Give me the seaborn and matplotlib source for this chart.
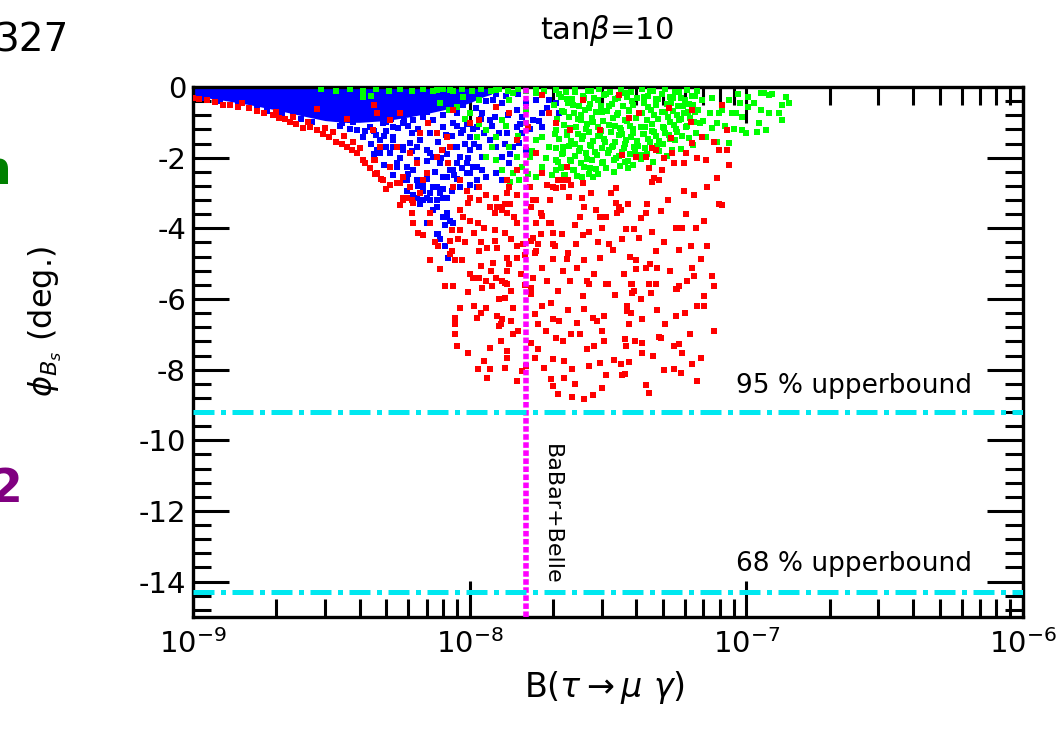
import matplotlib
matplotlib.use("Agg")
import matplotlib.pyplot as plt
from matplotlib.ticker import LogLocator, MultipleLocator, NullFormatter
import pandas as pd
import seaborn as sns

# B(tau -> mu gamma) in units of 1e-9, phi_Bs in degrees
red_pts = [
    (1.0, -0.3), (1.05, -0.33), (1.12, -0.37), (1.2, -0.42), (1.28, -0.5), (1.36, -0.52),
    (1.46, -0.56), (1.6, -0.6), (1.7, -0.68), (1.8, -0.73), (1.94, -0.8), (2.05, -0.88),
    (2.15, -0.92), (2.24, -1.0), (2.36, -1.05), (2.5, -1.17), (2.65, -1.14), (2.8, -1.22),
    (2.95, -1.32), (3.1, -1.42), (3.3, -1.56), (3.45, -1.62), (3.6, -1.7), (3.75, -1.78),
    (3.9, -1.88), (4.1, -2.07), (4.2, -2.16), (4.35, -2.3), (4.55, -2.45), (4.8, -2.6),
    (5.0, -2.9), (1.5, -0.46), (2.0, -0.7), (2.3, -0.86), (2.6, -0.98), (3.0, -1.15),
    (3.2, -1.27), (3.5, -1.38), (3.8, -1.56), (4.0, -1.72), (4.5, -2.08), (2.8, -0.62),
    (3.6, -0.92), (4.5, -0.52),
    (4.62, -0.74), (4.47, -1.22), (4.73, -1.7), (4.54, -2.07), (4.85, -2.64), (5.45, -2.73),
    (5.73, -2.56), (6.07, -2.84), (5.73, -3.13), (6.18, -3.21), (6.6, -3.01), (6.76, -2.64),
    (6.99, -2.44), (6.44, -2.16), (6.6, -1.31), (7.05, -1.02), (7.6, -1.31), (7.92, -1.79),
    (7.6, -1.99), (8.47, -1.7), (8.33, -2.16), (9.2, -2.64), (8.67, -2.84), (9.75, -2.93),
    (10.0, -3.13), (10.85, -2.84), (11.5, -3.07), (12.5, -3.13), (13.1, -3.41), (11.8, -3.41),
    (13.9, -2.84), (13.6, -2.64), (14.8, -2.36), (17.4, -1.88), (18.3, -2.44), (20.0, -2.84),
    (21.5, -2.64), (22.4, -2.27), (20.6, -1.02), (19.4, -0.74), (18.3, -0.23), (5.59, -0.74),
    (5.14, -0.94), (8.67, -0.65), (10.0, -1.02), (8.26, -1.42), (6.07, -1.88), (5.45, -1.7),
    (5.14, -2.27), (4.62, -2.44), (12.5, -0.57), (14.8, -1.51), (13.9, -0.74), (16.2, -1.14),
    (10.85, -0.94),
    (5.14, -2.78), (5.59, -2.73), (5.73, -3.21), (5.92, -3.15), (5.59, -3.35), (6.23, -3.27),
    (6.18, -3.58), (6.23, -3.86), (6.49, -4.12), (6.76, -4.2), (7.17, -3.58), (7.17, -3.84),
    (7.48, -4.4), (7.67, -4.49), (8.47, -4.35), (8.6, -4.63), (7.17, -4.91), (7.79, -5.14),
    (8.47, -4.72), (8.83, -4.91), (9.36, -4.91), (8.6, -4.06), (9.2, -4.06), (9.05, -4.29),
    (9.44, -3.69), (9.2, -3.49), (9.83, -3.27), (10.85, -3.21), (10.0, -3.78), (10.7, -3.86),
    (11.3, -3.98), (12.3, -4.06), (10.4, -4.12), (11.0, -4.4), (11.6, -4.55), (12.3, -4.35),
    (12.6, -4.55), (10.85, -4.63), (12.1, -4.97), (11.0, -5.06), (10.25, -5.4), (10.85, -5.4),
    (10.0, -5.28), (11.5, -5.48), (12.5, -5.4), (13.1, -5.48), (13.7, -5.57), (13.6, -5.2),
    (14.8, -4.83), (13.6, -4.83), (13.9, -5.0), (12.6, -3.41), (13.1, -3.49), (13.7, -3.58),
    (12.3, -3.58), (13.4, -3.3), (14.8, -3.07), (14.5, -3.69), (14.8, -3.84), (13.4, -4.12),
    (14.1, -4.29), (14.8, -4.49), (16.7, -3.41), (17.4, -3.21), (18.1, -3.58), (17.4, -3.84),
    (16.9, -4.26), (17.6, -4.43), (17.4, -4.63), (19.7, -3.84), (20.0, -4.12), (20.3, -4.49),
    (20.0, -4.86), (18.3, -5.11), (19.1, -2.78), (20.6, -2.87), (15.6, -4.45), (15.9, -4.75),
    (13.6, -3.01), (16.5, -2.84), (16.9, -3.21), (18.3, -3.64), (19.4, -3.84), (18.1, -4.15),
    (16.7, -4.35), (17.2, -4.69), (16.9, -5.4), (20.0, -4.43), (21.5, -4.15), (21.7, -2.84),
    (20.8, -2.64), (22.6, -2.64), (23.3, -2.78), (25.6, -2.73), (25.4, -3.15), (26.0, -3.41),
    (25.0, -3.69), (25.6, -4.2), (24.3, -4.43), (22.6, -4.69), (22.4, -4.86), (24.5, -5.11),
    (23.0, -5.48), (26.6, -5.48), (28.6, -3.49), (29.5, -3.69), (31.2, -3.69), (30.1, -3.98),
    (31.9, -4.43), (29.5, -4.83), (28.2, -5.28), (31.2, -5.57), (33.8, -3.27), (34.8, -3.41),
    (34.0, -3.58), (36.8, -4.01), (39.3, -4.01), (41.0, -4.26), (43.8, -3.3), (43.4, -3.58),
    (47.1, -4.63), (40.0, -4.91), (40.0, -5.14), (43.4, -5.11), (47.5, -5.11), (47.1, -5.57),
    (38.7, -5.57), (55.7, -3.98), (58.5, -3.98), (63.0, -4.49), (68.5, -4.86), (63.5, -5.11),
    (64.5, -5.34), (74.9, -5.34), (56.1, -5.71), (59.5, -2.93), (64.5, -3.07), (71.8, -2.84),
    (78.3, -2.59), (79.6, -3.3), (81.5, -3.35), (46.4, -2.59), (48.3, -2.64), (54.8, -2.16),
    (59.5, -2.16), (66.1, -2.02), (71.2, -2.07), (86.8, -2.22), (85.4, -1.79), (79.6, -1.79),
    (85.4, -1.22), (44.5, -2.3), (45.6, -2.7), (49.5, -2.36), (50.4, -2.02), (53.8, -1.88),
    (33.8, -2.87), (35.3, -3.49), (40.0, -1.99), (45.6, -1.73), (53.4, -1.45), (63.0, -0.99),
    (68.9, -1.42), (76.2, -1.56), (34.8, -0.23), (81.5, -0.51), (63.5, -0.65), (41.0, -0.74),
    (52.5, -0.6), (29.5, -1.22), (37.8, -0.88), (63.5, -1.59), (47.1, -1.79), (35.6, -1.93),
    (43.4, -1.99), (60.5, -1.88), (25.6, -0.37), (23.0, -1.22),
    (76.2, -5.63), (70.1, -5.91), (66.1, -6.19), (70.1, -6.19), (76.2, -6.9), (55.7, -6.48),
    (57.0, -5.63), (55.7, -5.71), (48.3, -7.07), (54.8, -7.33), (57.0, -7.27), (58.5, -7.53),
    (63.5, -7.84), (68.5, -7.67), (66.1, -8.32), (54.8, -7.98), (58.0, -8.1), (43.4, -8.44),
    (44.5, -8.66), (42.0, -7.53), (42.0, -7.24), (42.0, -6.56), (37.8, -6.7), (38.4, -6.39),
    (37.1, -6.19), (38.7, -5.82), (38.4, -5.57), (44.5, -5.57), (45.2, -5.82), (30.6, -6.48),
    (30.1, -6.9), (30.6, -7.19), (36.3, -7.13), (36.8, -7.33), (33.3, -7.73), (35.3, -7.84),
    (37.8, -7.78), (31.2, -8.15), (35.6, -8.15), (30.1, -8.52),
    (8.13, -5.63), (8.67, -5.63), (11.1, -5.68), (12.0, -5.63), (13.4, -5.54), (14.1, -5.77),
    (12.8, -5.99), (9.2, -6.25), (10.4, -6.19), (11.0, -6.39), (11.5, -6.25), (10.6, -6.53),
    (12.6, -6.48), (13.1, -6.56), (13.0, -6.7), (14.3, -6.25), (14.1, -6.62), (8.83, -6.53),
    (8.83, -6.7), (8.83, -6.99), (8.98, -7.33), (9.83, -7.53), (11.8, -7.39), (13.0, -7.19),
    (13.7, -7.47), (13.6, -7.67), (14.3, -6.99), (11.3, -7.76), (11.8, -7.98), (10.7, -7.98),
    (13.4, -7.95), (11.6, -8.24), (14.8, -8.32), (15.4, -8.04), (13.4, -5.97), (12.8, -6.76),
    (16.7, -5.68), (16.7, -5.85), (20.8, -5.77), (18.3, -6.19), (19.7, -6.11), (17.2, -6.42),
    (20.0, -6.56), (21.1, -6.62), (17.6, -6.7), (16.7, -7.24), (20.6, -7.1), (21.7, -7.19),
    (23.3, -6.99), (25.0, -6.99), (25.6, -5.91), (26.0, -6.28), (27.8, -6.53), (28.9, -6.62),
    (24.5, -6.68), (28.2, -7.33), (26.6, -7.41), (20.0, -7.7), (22.0, -7.76), (17.2, -7.67),
    (18.6, -7.95), (19.7, -8.27), (22.0, -8.24), (20.0, -8.47), (20.8, -8.69), (23.5, -8.78),
    (26.0, -8.84), (27.8, -8.72), (29.5, -7.81), (36.3, -8.13), (37.1, -6.34), (49.1, -7.1),
    (39.3, -5.77), (31.5, -5.57), (27.0, -5.57), (17.6, -7.41), (23.5, -7.98), (15.9, -5.6),
    (22.8, -3.1), (24.0, -3.9), (27.5, -3.0), (27.0, -4.1), (29.0, -4.4), (32.5, -3.0),
    (33.0, -4.6), (35.5, -4.3), (37.5, -3.3), (38.0, -4.8), (41.5, -3.7), (45.5, -4.1),
    (45.0, -5.0), (49.0, -3.5), (50.5, -4.4), (52.0, -3.2), (53.0, -5.2), (57.0, -4.6),
    (60.5, -3.6), (61.0, -5.5), (66.0, -4.0), (70.5, -3.8), (72.0, -4.5), (36.0, -5.3),
    (33.5, -5.9), (41.5, -6.0), (47.5, -6.3), (51.0, -6.7), (60.0, -6.4), (62.5, -7.0),
    (46.0, -7.6), (39.5, -7.2), (50.5, -8.0), (27.0, -7.9), (24.0, -8.4), (9.6, -4.4),
    (9.9, -5.8), (11.9, -5.2), (15.3, -5.3), (15.0, -6.9), (16.0, -7.9), (18.8, -6.9),
    (22.7, -6.3), (26.0, -4.9), (19.0, -5.5), (21.8, -5.2), (14.0, -3.3), (19.5, -3.2),
]

blue_pts = [
    (4.73, -1.88), (5.0, -1.7), (4.73, -1.51), (5.28, -1.51), (5.73, -1.79), (6.07, -1.59),
    (6.44, -1.7), (5.45, -2.16), (5.92, -2.27), (6.23, -2.36), (5.92, -2.64), (6.44, -2.64),
    (6.76, -2.93), (7.36, -2.84), (6.99, -3.13), (6.6, -3.3), (7.6, -3.21), (7.36, -3.49),
    (7.99, -3.69), (8.26, -2.56), (8.67, -2.36), (7.79, -2.16), (7.36, -1.99), (6.99, -1.79),
    (8.67, -1.7), (9.2, -1.99), (9.75, -2.16), (10.0, -2.44), (10.6, -2.27), (11.1, -1.99),
    (10.85, -1.7), (10.0, -1.42), (9.44, -1.22), (8.67, -1.02), (7.99, -1.14), (7.36, -0.94),
    (6.76, -0.85), (6.23, -0.94), (5.73, -1.02), (5.28, -1.14), (4.85, -1.02), (11.8, -1.51),
    (12.5, -1.7), (13.1, -1.99), (13.9, -2.16), (12.5, -2.44), (11.5, -2.56), (13.1, -2.64),
    (14.3, -1.7), (13.6, -1.31), (14.8, -1.14), (15.5, -1.31), (15.1, -1.59), (16.0, -1.79),
    (16.9, -0.94), (18.3, -0.74), (20.6, -0.45), (19.4, -0.37), (17.4, -0.37), (16.0, -0.45),
    (14.8, -0.65), (13.1, -0.45), (12.1, -0.37), (11.1, -0.74), (11.8, -0.94), (10.6, -1.14),
    (21.1, -0.74), (18.3, -1.14), (5.45, -2.27), (5.73, -2.64), (5.92, -2.93), (6.44, -3.13),
    (6.76, -3.21), (7.17, -3.01), (7.6, -2.84), (7.99, -2.56), (8.47, -2.36), (8.98, -2.16),
    (9.75, -2.44), (10.6, -2.64), (11.1, -2.36), (7.99, -3.13), (8.26, -3.69), (8.67, -3.84),
    (8.13, -3.92), (7.6, -4.15), (7.05, -3.84), (7.6, -3.41), (6.76, -2.78), (5.14, -1.88),
    (4.62, -1.79), (5.28, -1.42), (5.73, -1.7), (6.44, -2.07), (7.17, -1.88), (7.99, -1.79),
    (8.98, -1.7), (10.0, -1.79), (10.25, -2.27), (3.9, -1.22), (4.1, -1.42), (4.35, -1.14),
    (3.68, -0.94), (3.3, -0.74), (3.47, -1.02), (3.12, -0.57), (2.8, -0.45), (2.95, -0.65),
    (2.58, -0.37), (6.23, -3.07), (7.17, -3.21), (7.79, -3.01), (8.26, -3.13), (8.6, -2.93),
    (9.2, -2.84), (10.0, -2.78), (10.6, -2.84), (8.26, -3.58), (8.47, -3.78), (6.99, -3.86),
    (7.67, -4.15), (8.33, -4.83), (8.13, -4.49), (7.79, -4.29),
    (1.1, -0.32), (1.25, -0.4), (1.45, -0.47), (1.7, -0.6), (1.85, -0.68), (2.1, -0.76),
    (2.3, -0.82), (2.45, -0.92), (2.7, -0.98), (3.4, -1.1), (3.7, -1.18), (4.2, -1.25),
    (4.6, -1.35), (5.0, -1.25), (5.5, -1.15), (6.0, -1.1), (6.5, -1.2), (7.2, -1.3),
    (8.2, -1.35), (9.0, -1.1), (9.8, -1.05), (10.5, -0.6), (11.5, -0.4), (12.5, -0.2),
    (13.5, -0.25), (15.0, -0.2), (9.5, -0.5), (4.2, -0.9), (5.0, -1.0), (5.8, -0.95),
    (4.4, -1.6), (4.9, -1.4), (5.3, -1.7), (5.6, -2.0), (6.2, -1.8), (6.6, -1.5),
    (7.0, -2.1), (7.5, -2.4), (7.9, -2.0), (8.3, -1.9), (8.8, -2.5), (9.4, -2.3),
    (9.9, -2.0), (10.4, -1.6), (11.3, -1.3), (12.0, -1.1), (12.8, -1.3), (13.4, -1.6),
    (14.0, -1.9), (15.2, -1.05), (16.5, -1.2), (17.8, -0.95), (19.0, -0.6), (6.0, -2.45),
    (6.5, -2.8), (7.0, -2.6), (5.3, -2.5), (4.9, -2.2), (4.5, -1.9), (8.0, -2.9),
    (9.0, -2.6), (9.6, -1.6), (10.3, -1.2), (11.0, -0.9), (12.3, -0.85), (13.8, -0.8),
    (15.5, -0.85), (7.0, -0.7), (8.0, -0.8), (9.0, -0.75), (6.0, -0.75), (5.2, -0.9),
    (4.5, -1.25), (3.8, -1.0), (4.0, -0.85), (6.2, -1.3), (7.7, -1.55), (8.6, -1.4),
    (9.3, -1.3),
]

# solid blue band along the top-left edge
blue_core_b = [1.0, 1.3, 1.6, 2.0, 2.5, 3.0, 3.5, 4.0, 5.0, 6.0, 7.0, 8.0, 9.0, 10.0, 11.0, 12.0]
blue_core_phi = [-0.25, -0.38, -0.5, -0.65, -0.82, -0.95, -1.0, -1.0, -0.95, -0.85, -0.75,
                 -0.65, -0.55, -0.45, -0.3, -0.2]

green_pts = [
    (2.9, -0.06), (3.3, -0.1), (3.7, -0.05), (4.1, -0.12), (4.6, -0.06), (5.1, -0.1),
    (5.6, -0.05), (6.2, -0.12), (6.8, -0.06), (7.4, -0.1), (8.0, -0.05), (8.7, -0.12),
    (9.4, -0.06), (10.2, -0.1), (11.0, -0.05), (11.9, -0.12), (12.8, -0.06), (13.8, -0.1),
    (14.9, -0.05), (16.0, -0.12), (17.3, -0.06), (18.6, -0.1), (4.1, -0.28), (4.4, -0.25),
    (7.8, -0.45), (8.4, -0.65), (9.6, -0.9), (10.8, -1.05),
    (8.98, -0.57), (10.0, -0.74), (10.85, -0.37), (9.44, -0.28), (8.47, -0.09), (7.6, -0.09),
    (11.5, -1.22), (10.6, -1.42), (12.5, -1.42), (13.1, -0.94), (13.9, -1.7), (14.8, -1.99),
    (11.5, -1.99), (12.5, -2.07), (13.1, -2.36), (14.3, -2.44), (15.5, -2.27), (16.5, -1.99),
    (17.4, -1.51), (16.0, -1.02), (18.3, -1.42), (19.4, -1.7), (20.6, -2.07), (21.7, -2.27),
    (18.3, -2.27), (17.4, -2.56), (15.1, -2.64), (20.6, -1.22), (21.7, -1.7), (17.4, -0.17),
    (14.3, -0.17), (12.5, -0.09), (20.6, -0.09), (16.0, -0.65), (13.9, -0.37), (12.0, -1.7),
    (13.5, -1.1), (15.0, -1.4), (16.8, -1.8), (18.8, -2.0), (19.8, -2.5), (14.0, -2.7),
    (16.2, -2.45),
    (20.5, -0.08), (22.3, -0.14), (24.1, -0.06), (26.8, -0.12), (29.4, -0.05), (32.2, -0.15),
    (35.1, -0.07), (38.3, -0.13), (41.9, -0.06), (46.1, -0.12), (50.7, -0.05), (55.3, -0.14),
    (60.8, -0.08), (66.5, -0.1),
    (21.3, -0.27), (23.4, -0.33), (25.6, -0.25), (28.1, -0.31), (30.7, -0.24), (33.6, -0.35),
    (36.9, -0.28), (40.2, -0.32), (44.0, -0.26), (48.1, -0.34), (52.9, -0.28), (58.2, -0.31),
    (63.5, -0.26),
    (20.2, -0.52), (22.7, -0.46), (24.9, -0.55), (27.2, -0.49), (29.9, -0.54), (32.8, -0.47),
    (35.9, -0.53), (39.1, -0.5), (42.8, -0.45), (47.0, -0.52), (51.6, -0.48), (56.5, -0.55),
    (62.0, -0.47),
    (21.6, -0.68), (23.9, -0.74), (26.1, -0.66), (28.7, -0.72), (31.4, -0.67), (34.5, -0.75),
    (37.8, -0.69), (41.3, -0.73), (45.2, -0.66), (49.6, -0.71), (54.4, -0.68), (59.6, -0.74),
    (65.3, -0.7),
    (20.7, -0.92), (22.9, -0.86), (25.3, -0.94), (27.7, -0.89), (30.3, -0.95), (33.1, -0.87),
    (36.3, -0.93), (39.8, -0.88), (43.6, -0.94), (47.8, -0.9), (52.3, -0.86), (57.3, -0.93),
    (62.8, -0.89),
    (21.9, -1.08), (24.2, -1.14), (26.6, -1.06), (29.1, -1.12), (31.9, -1.07), (34.9, -1.15),
    (38.1, -1.09), (41.7, -1.13), (45.7, -1.06), (50.1, -1.12), (54.9, -1.08), (60.3, -1.14),
    (20.3, -1.32), (22.5, -1.26), (24.7, -1.34), (27.0, -1.28), (29.6, -1.35), (32.4, -1.27),
    (35.5, -1.33), (38.9, -1.29), (42.4, -1.34), (46.5, -1.27), (51.0, -1.31), (56.0, -1.28),
    (21.1, -1.48), (23.2, -1.54), (25.5, -1.46), (28.0, -1.52), (30.6, -1.47), (33.5, -1.55),
    (36.7, -1.49), (40.1, -1.53), (44.1, -1.46), (48.3, -1.52), (53.0, -1.48),
    (20.6, -1.72), (22.8, -1.66), (25.0, -1.74), (27.4, -1.68), (30.1, -1.73), (32.9, -1.67),
    (36.0, -1.74), (39.4, -1.69), (43.2, -1.72), (47.5, -1.66),
    (21.8, -1.88), (24.0, -1.94), (26.3, -1.86), (28.9, -1.92), (31.6, -1.87), (34.6, -1.95),
    (37.9, -1.89), (41.5, -1.93),
    (20.9, -2.12), (23.0, -2.06), (25.2, -2.14), (27.6, -2.08), (30.4, -2.13), (33.3, -2.07),
    (36.4, -2.12),
    (21.4, -2.28), (23.6, -2.34), (26.0, -2.27), (28.5, -2.33), (31.0, -2.29),
    (22.1, -2.48), (24.4, -2.53), (26.9, -2.47),
    (21.0, -0.2), (22.5, -0.35), (24.0, -0.15), (25.8, -0.3), (27.5, -0.1), (29.0, -0.38),
    (31.0, -0.2), (34.5, -0.32), (36.5, -0.18), (38.5, -0.4), (42.5, -0.28), (45.0, -0.1),
    (47.0, -0.35), (49.5, -0.2), (54.5, -0.3), (57.0, -0.15), (60.0, -0.38), (65.0, -0.25),
    (22.0, -0.7), (23.6, -0.5), (25.2, -0.78), (27.0, -0.6), (30.2, -0.72), (32.0, -0.55),
    (34.0, -0.8), (37.6, -0.66), (41.8, -0.75), (44.0, -0.58), (46.2, -0.8), (51.0, -0.7),
    (53.5, -0.45), (56.0, -0.78), (58.8, -0.55), (61.5, -0.72), (64.0, -0.5), (67.0, -0.65),
    (23.0, -1.15), (24.6, -0.9), (26.3, -1.2), (28.0, -1.0), (29.8, -1.25), (33.5, -1.1),
    (35.2, -1.22), (37.0, -0.95), (39.0, -1.18), (43.2, -1.12), (45.5, -1.25), (47.8, -0.92),
    (50.2, -1.15), (52.8, -0.98), (55.5, -1.2), (58.0, -0.9), (61.0, -1.1), (64.5, -1.0),
    (22.4, -1.35), (24.0, -1.62), (25.6, -1.4), (27.3, -1.65), (29.0, -1.38), (30.8, -1.55),
    (32.8, -1.7), (34.6, -1.35), (36.4, -1.6), (38.4, -1.42), (40.5, -1.68), (42.6, -1.32),
    (44.8, -1.55), (47.2, -1.4), (49.8, -1.62), (52.4, -1.35), (55.0, -1.5), (58.5, -1.38),
    (21.5, -1.9), (23.2, -2.1), (24.8, -1.8), (26.5, -2.05), (28.3, -1.85), (30.0, -2.15),
    (31.8, -1.78), (33.7, -2.0), (35.5, -1.85), (37.5, -2.1), (39.5, -1.8), (41.5, -2.05),
    (43.8, -1.9), (46.0, -2.12), (48.5, -1.82), (51.5, -1.95), (54.0, -1.78),
    (22.0, -2.5), (23.8, -2.35), (25.5, -2.55), (27.2, -2.3), (29.2, -2.45), (31.2, -2.3),
    (33.2, -2.4), (35.0, -2.25), (37.2, -2.3), (20.5, -2.35), (28.0, -2.55), (39.0, -2.22),
    (68.9, -0.37), (73.7, -0.74), (78.3, -1.02), (81.5, -0.65), (86.8, -0.37), (91.7, -0.74),
    (96.7, -0.85), (101.4, -0.57), (106.8, -0.45), (113.0, -0.65), (121.0, -0.74),
    (131.0, -0.74), (135.0, -0.51), (143.0, -0.45), (139.0, -0.28), (113.0, -0.17),
    (121.0, -0.23), (101.0, -0.28), (111.0, -1.02), (118.0, -1.22), (96.7, -1.22),
    (100.0, -1.31), (86.8, -1.59), (78.3, -1.56), (71.2, -1.42), (135.0, -0.94),
    (109.0, -1.28), (124.0, -0.2), (116.0, -0.17), (94.5, -0.45), (79.6, -0.74),
    (74.9, -1.16), (67.8, -1.02), (88.6, -0.74), (62.0, -1.45), (66.0, -1.3), (70.0, -0.95),
    (75.0, -0.3), (84.0, -1.1), (90.0, -1.2), (93.0, -0.2), (58.0, -1.75), (64.0, -1.65),
]

babar_belle_limit = 1.6e-8
bound_95 = -9.2
bound_68 = -14.3

x_ticks = [1e-9, 1e-8, 1e-7, 1e-6]
x_tick_labels = [r"$10^{-9}$", r"$10^{-8}$", r"$10^{-7}$", r"$10^{-6}$"]
y_ticks = [0, -2, -4, -6, -8, -10, -12, -14]
y_tick_labels = ["0", "-2", "-4", "-6", "-8", "-10", "-12", "-14"]


def to_frame(points):
    df = pd.DataFrame(points, columns=["b", "phi"])
    df["b"] = df["b"] * 1e-9
    return df


sns.set_style("ticks")
plt.rcParams["font.family"] = ["DejaVu Sans"]
plt.rcParams["axes.unicode_minus"] = False
plt.rcParams["mathtext.fontset"] = "dejavusans"
for key in ("text.color", "axes.labelcolor", "xtick.color", "ytick.color", "axes.edgecolor"):
    plt.rcParams[key] = "black"

fig = plt.figure(figsize=(10.62, 7.31), dpi=100)
ax = fig.add_axes([0.1817, 0.156, 0.7816, 0.725])
ax.set_xscale("log")

core_b = [b * 1e-9 for b in blue_core_b]
ax.fill_between(core_b, 0, blue_core_phi, color="#0000ff", linewidth=0, zorder=2)

marker_kw = dict(marker="s", linewidth=0, legend=False, ax=ax)
sns.scatterplot(data=to_frame(blue_pts), x="b", y="phi", color="#0000ff", s=22, zorder=3, **marker_kw)
sns.scatterplot(data=to_frame(green_pts), x="b", y="phi", color="#00ff00", s=24, zorder=4, **marker_kw)
sns.scatterplot(data=to_frame(red_pts), x="b", y="phi", color="#ff0000", s=19, zorder=5, **marker_kw)

# experimental bounds
ax.axvline(babar_belle_limit, color="#ff00ff", linewidth=4, linestyle=(0, (1, 0.45)), zorder=6)
for yb in (bound_95, bound_68):
    ax.axhline(yb, color="#00e8f0", linewidth=3.6, linestyle=(0, (4.2, 1.3, 1.0, 1.3)), zorder=6)

ax.text(6.55e-7, -8.47, "95 % upperbound", ha="right", va="center", fontsize=19)
ax.text(6.55e-7, -13.5, "68 % upperbound", ha="right", va="center", fontsize=19)
ax.text(1.98e-8, -12.1, "BaBar+Belle", rotation=270, ha="center", va="center", fontsize=16)

ax.set_xlim(1e-9, 1e-6)
ax.set_ylim(-15, 0)
ax.set_xticks(x_ticks, labels=x_tick_labels)
ax.xaxis.set_minor_locator(LogLocator(base=10, subs=range(2, 10), numticks=20))
ax.xaxis.set_minor_formatter(NullFormatter())
ax.set_yticks(y_ticks, labels=y_tick_labels)
ax.yaxis.set_minor_locator(MultipleLocator(0.4))

ax.tick_params(which="both", direction="in", top=True, right=True, width=2.2, colors="black")
ax.tick_params(which="major", length=26, labelsize=21)
ax.tick_params(axis="y", which="major", pad=5)
ax.tick_params(axis="x", which="major", pad=9)
ax.tick_params(which="minor", length=13)
for spine in ax.spines.values():
    spine.set_linewidth(2.4)
    spine.set_color("black")
ax.set_xlabel("")
ax.set_ylabel("")

fig.text(607 / 1062, 1 - 30 / 731, r"tan$\beta$=10", ha="center", va="center", fontsize=22)
fig.text(604 / 1062, 1 - 688 / 731, r"B($\tau\rightarrow\mu\ \gamma$)", ha="center", va="center", fontsize=24)
fig.text(45 / 1062, 1 - 322 / 731, r"$\phi_{B_s}$ (deg.)", ha="center", va="center", rotation=90, fontsize=23)

# fragments of surrounding slide text
fig.text(-6 / 1062, 1 - 40 / 731, "327", ha="left", va="center", fontsize=28, color="black")
fig.text(12 / 1062, 1 - 172 / 731, "n", ha="right", va="center", fontsize=34, color="#008000", fontweight="bold")
fig.text(22 / 1062, 1 - 490 / 731, "2", ha="right", va="center", fontsize=34, color="#800080", fontweight="bold")

fig.savefig("out.png", dpi=100)
